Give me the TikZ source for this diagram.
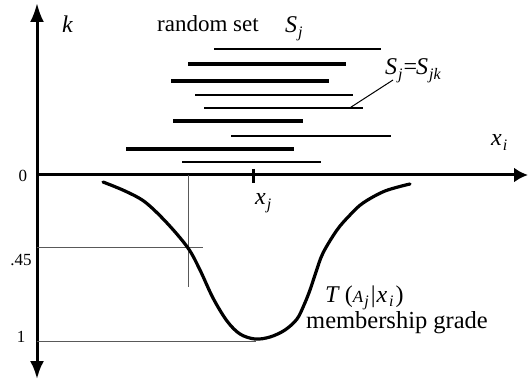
\documentclass[tikz,border=0pt]{standalone}
\usepackage{fontspec}
\setmainfont{Liberation Serif}
\usetikzlibrary{arrows.meta}
\newcommand{\sbi}[1]{\raisebox{-0.45ex}{\fontsize{16}{16}\selectfont\itshape #1}}
\begin{document}
\begin{tikzpicture}[x=1pt,y=-1pt,
  axis/.style={line width=3pt},
  setline/.style={line width=2.3pt},
  setthick/.style={line width=3.2pt},
  guide/.style={line width=1pt, black!65},
  curve/.style={line width=3.2pt, line cap=round},
  lbl/.style={font=\fontsize{24}{26}\selectfont, inner sep=0pt, anchor=base west},
  num/.style={font=\fontsize{17}{20}\selectfont, inner sep=0pt}]
\useasboundingbox (0,0) rectangle (528,385);
% axes
\coordinate (o) at (37,175);
\coordinate (top) at (37,3);
\coordinate (bot) at (37,379);
\coordinate (right) at (528,175);
\draw[axis,-{Latex[length=19pt,width=14pt]}] (o) -- (top);
\draw[axis,-{Latex[length=18pt,width=14pt]}] (o) -- (bot);
\draw[axis,-{Latex[length=14pt,width=15pt]}] (o) -- (right);
% tick at x_j
\draw[line width=3pt] (253,169) -- (253,183);
% random set lines
\draw[setline]  (214,49)  -- (381,49);
\draw[setthick] (188,64)  -- (346,64);
\draw[setthick] (171,81)  -- (329,81);
\draw[setline]  (195,95)  -- (353,95);
\draw[setline]  (204,108) -- coordinate[pos=0.916] (lp) (363,108);
\draw[setthick] (173,121) -- (303,121);
\draw[setline]  (231,136) -- (391,136);
\draw[setthick] (126,149) -- (294,149);
\draw[setline]  (182,162) -- (321,162);
% guides
\draw[guide] (188,175) -- (188,287);
\draw[guide] (37,248) -- (203,248);
\draw[guide] (37,341) -- (256,341);
% curve
\draw[curve] plot[smooth, tension=0.55] coordinates {
 (103,182) (125,191) (145,202) (167,223) (188,248) (200,270) (213,298)
 (227,321) (240,334) (255,339) (270,337) (285,330) (297,319) (304,305)
 (310,290) (316,272) (323,253) (337,230) (350,215) (363,203) (385,191) (410,184)};
% labels
\node[lbl] (k) at (62,33) {\textit{k}};
\node[lbl, font=\fontsize{23}{26}\selectfont] (rs) at (157,32) {random set};
\node[lbl] (sj) at (285,33) {\textit{S}\kern1pt\sbi{j}};
\node[lbl] (eq) at (385,75) {\textit{S}\kern1pt\sbi{j}\kern1pt=\kern-1pt\textit{S}\kern1pt\sbi{jk}};
\draw[line width=1pt] (lp) -- (393,80);
\node[lbl] (xi) at (491,146) {\textit{x}\kern1pt\sbi{i}};
\node[lbl] (xj) at (255,205) {\textit{x}\kern1pt\sbi{j}};
\node[lbl] (T) at (325,302) {\textit{T}\kern5pt({\fontsize{17}{20}\selectfont\itshape A}\kern1pt\sbi{j}\kern2pt|\kern1pt\textit{x}\kern2pt\sbi{i}\kern2pt)};
\node[lbl, font=\fontsize{24.5}{26}\selectfont] (mg) at (306,328) {membership grade};
\node[num] (n0) at (23,176) {0};
\node[num] (n45) at (21,260) {.45};
\node[num] (n1) at (21,337) {1};
\end{tikzpicture}
\end{document}
